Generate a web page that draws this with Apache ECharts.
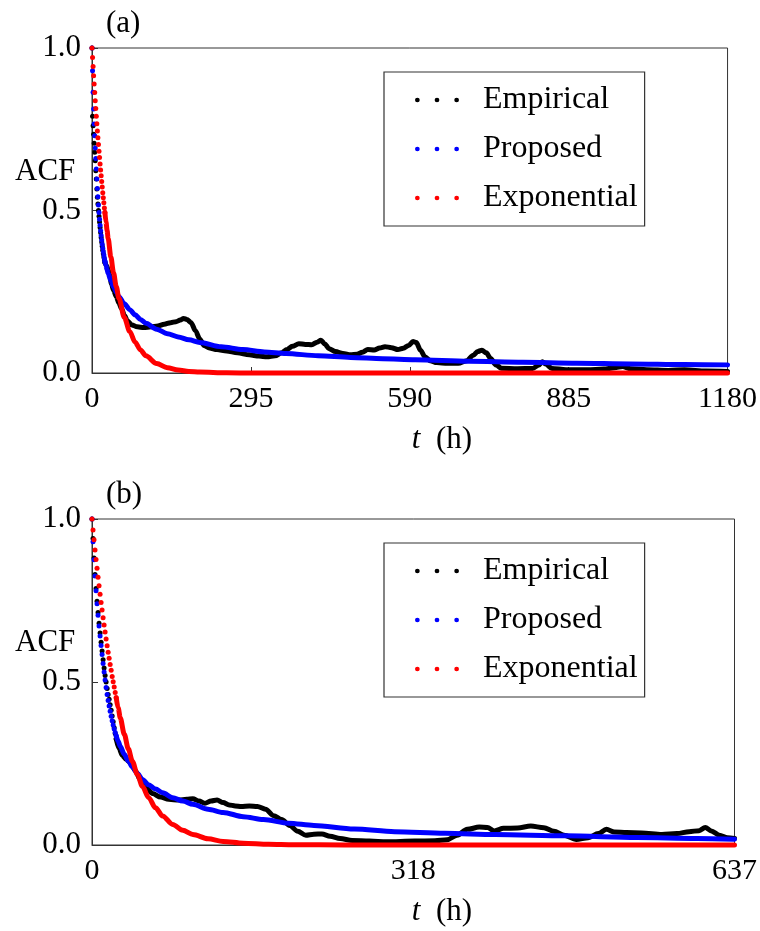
<!DOCTYPE html>
<html>
<head>
<meta charset="utf-8">
<script src="https://cdn.jsdelivr.net/npm/echarts@6/dist/echarts.min.js"></script>
<style>
  html, body { margin: 0; padding: 0; background: #ffffff; }
  #chart { width: 760px; height: 931px; }
</style>
</head>
<body>
<div id="chart"></div>
<script>
// Autocorrelation functions: empirical estimate versus two fitted models.
// Two records, panels (a) and (b); t in hours. Early lags are hourly samples.

const seriesNames = ['Empirical', 'Proposed', 'Exponential'];

// ---- Panel (a) ----
const xTicksA = ['0', '295', '590', '885', '1180'];
const empiricalA = [
  [0, 1.0], [1, 0.79], [2, 0.761], [3, 0.735], [4, 0.707], [5, 0.679], [6, 0.653], [7, 0.622],
  [8, 0.597], [9, 0.566], [10, 0.541], [11, 0.52], [12, 0.50], [13, 0.482], [14, 0.465],
  [15, 0.448], [16, 0.432], [17, 0.417], [18, 0.403], [19, 0.39], [20, 0.378], [21, 0.367],
  [22, 0.357], [23, 0.348], [24, 0.34], [27, 0.33], [30, 0.318], [33, 0.30], [36, 0.275],
  [40, 0.255], [45, 0.235], [50, 0.215], [55, 0.198], [60, 0.178], [66, 0.16], [74, 0.148],
  [84, 0.142], [96, 0.140], [110, 0.142], [122, 0.145], [134, 0.150], [146, 0.155],
  [156, 0.158], [164, 0.163], [170, 0.168], [176, 0.165], [184, 0.155], [192, 0.13],
  [200, 0.105], [208, 0.085], [218, 0.077], [232, 0.072], [250, 0.068], [270, 0.062],
  [292, 0.056], [310, 0.052], [325, 0.050], [340, 0.053], [352, 0.062], [362, 0.072],
  [372, 0.082], [384, 0.090], [396, 0.088], [408, 0.087], [418, 0.095], [425, 0.101],
  [432, 0.090], [440, 0.075], [452, 0.066], [466, 0.060], [480, 0.056], [492, 0.058],
  [502, 0.064], [512, 0.072], [524, 0.071], [534, 0.077], [544, 0.081], [556, 0.078],
  [568, 0.072], [578, 0.076], [588, 0.085], [596, 0.097], [602, 0.094], [610, 0.070],
  [618, 0.050], [628, 0.038], [640, 0.032], [660, 0.030], [680, 0.030], [696, 0.038],
  [708, 0.055], [716, 0.066], [724, 0.070], [732, 0.062], [740, 0.045], [750, 0.025],
  [760, 0.015], [790, 0.013], [818, 0.014], [830, 0.025], [836, 0.035], [842, 0.028],
  [854, 0.014], [880, 0.010], [920, 0.010], [950, 0.012], [970, 0.016], [985, 0.020],
  [1000, 0.013], [1030, 0.010], [1070, 0.008], [1100, 0.010], [1140, 0.006], [1180, 0.005]
];
const proposedA = [
  [0, 1.0], [1, 0.93], [2, 0.864], [3, 0.812], [4, 0.766], [5, 0.73], [6, 0.692], [7, 0.66],
  [8, 0.628], [9, 0.597], [10, 0.568], [11, 0.542], [12, 0.517], [13, 0.494], [14, 0.473],
  [15, 0.455], [16, 0.438], [17, 0.423], [18, 0.409], [19, 0.396], [20, 0.384], [21, 0.373],
  [22, 0.363], [23, 0.353], [24, 0.344], [26, 0.33], [28, 0.318], [30, 0.307], [35, 0.284],
  [40, 0.265], [45, 0.249], [50, 0.235], [60, 0.213], [70, 0.195], [80, 0.179], [90, 0.165],
  [100, 0.153], [120, 0.135], [140, 0.121], [160, 0.111], [180, 0.102], [200, 0.094],
  [240, 0.081], [280, 0.072], [320, 0.065], [360, 0.060], [420, 0.053], [480, 0.048],
  [540, 0.044], [600, 0.041], [700, 0.036], [800, 0.033], [900, 0.030], [1000, 0.028],
  [1100, 0.026], [1180, 0.025]
];
const exponentialA = [
  [0, 1.0], [1, 0.971], [2, 0.943], [3, 0.915], [4, 0.889], [5, 0.863], [6, 0.838],
  [7, 0.814], [8, 0.790], [9, 0.767], [10, 0.745], [11, 0.724], [12, 0.703], [13, 0.682],
  [14, 0.663], [15, 0.643], [16, 0.625], [17, 0.607], [18, 0.589], [19, 0.572], [20, 0.555],
  [21, 0.539], [22, 0.524], [23, 0.508], [24, 0.494], [26, 0.465], [28, 0.439], [30, 0.414],
  [35, 0.357], [40, 0.308], [45, 0.266], [50, 0.230], [60, 0.171], [70, 0.128], [80, 0.095],
  [90, 0.071], [100, 0.053], [120, 0.029], [140, 0.016], [160, 0.009], [180, 0.005],
  [200, 0.003], [250, 0.0006], [300, 0.0], [1180, 0.0]
];

// ---- Panel (b) ----
const xTicksB = ['0', '318', '637'];
const empiricalB = [
  [0, 1.0], [1, 0.94], [2, 0.88], [3, 0.83], [4, 0.787], [5, 0.748], [6, 0.713], [7, 0.68],
  [8, 0.65], [9, 0.622], [10, 0.595], [11, 0.568], [12, 0.543], [13, 0.52], [14, 0.50],
  [15, 0.48], [16, 0.462], [17, 0.447], [18, 0.43], [19, 0.413], [20, 0.396], [21, 0.378],
  [22, 0.36], [23, 0.342], [24, 0.325], [27, 0.295], [30, 0.275], [34, 0.262], [38, 0.252],
  [43, 0.228], [48, 0.20], [54, 0.175], [60, 0.158], [68, 0.147], [76, 0.140], [86, 0.138],
  [94, 0.140], [100, 0.142], [106, 0.135], [112, 0.128], [118, 0.135], [124, 0.138],
  [130, 0.130], [136, 0.123], [142, 0.120], [148, 0.118], [156, 0.120], [164, 0.118],
  [172, 0.110], [180, 0.090], [188, 0.078], [196, 0.060], [204, 0.042], [212, 0.030],
  [220, 0.033], [228, 0.034], [236, 0.027], [246, 0.020], [258, 0.014], [275, 0.012],
  [292, 0.010], [320, 0.012], [340, 0.013], [352, 0.016], [362, 0.030], [372, 0.048],
  [384, 0.055], [392, 0.054], [399, 0.043], [408, 0.051], [422, 0.052], [435, 0.058],
  [448, 0.053], [458, 0.042], [468, 0.030], [480, 0.017], [492, 0.022], [502, 0.035],
  [510, 0.048], [518, 0.040], [530, 0.038], [545, 0.037], [565, 0.032], [580, 0.035],
  [592, 0.041], [602, 0.044], [608, 0.054], [614, 0.043], [622, 0.030], [630, 0.022],
  [637, 0.020]
];
const proposedB = [
  [0, 1.0], [1, 0.93], [2, 0.875], [3, 0.825], [4, 0.78], [5, 0.74], [6, 0.705], [7, 0.672],
  [8, 0.641], [9, 0.612], [10, 0.584], [11, 0.557], [12, 0.531], [13, 0.506], [14, 0.483],
  [15, 0.462], [16, 0.443], [17, 0.426], [18, 0.41], [19, 0.395], [20, 0.381], [21, 0.368],
  [22, 0.356], [23, 0.345], [24, 0.335], [26, 0.318], [28, 0.303], [32, 0.278], [36, 0.258],
  [40, 0.240], [45, 0.219], [50, 0.201], [56, 0.185], [63, 0.172], [70, 0.160], [80, 0.145],
  [90, 0.135], [100, 0.125], [115, 0.110], [130, 0.100], [150, 0.087], [170, 0.078],
  [195, 0.067], [220, 0.060], [260, 0.049], [300, 0.041], [350, 0.036], [400, 0.032],
  [470, 0.028], [540, 0.023], [600, 0.020], [637, 0.018]
];
const exponentialB = [
  [0, 1.0], [1, 0.966], [2, 0.936], [3, 0.905], [4, 0.876], [5, 0.849], [6, 0.821],
  [7, 0.795], [8, 0.769], [9, 0.744], [10, 0.721], [11, 0.697], [12, 0.675], [13, 0.653],
  [14, 0.632], [15, 0.611], [16, 0.591], [17, 0.573], [18, 0.554], [19, 0.536], [20, 0.517],
  [21, 0.501], [22, 0.485], [23, 0.468], [24, 0.452], [26, 0.42], [28, 0.39], [32, 0.34],
  [36, 0.295], [40, 0.257], [45, 0.216], [50, 0.18], [56, 0.146], [63, 0.114], [70, 0.089],
  [80, 0.063], [90, 0.045], [100, 0.032], [115, 0.019], [130, 0.011], [150, 0.0057],
  [175, 0.0024], [200, 0.001], [250, 0.0002], [300, 0.0], [637, 0.0]
];

const yTicks = ['0.0', '0.5', '1.0'];

// ---- styling ----
const FONT = '"Liberation Serif", "Times New Roman", serif';
const AXIS_COLOR = '#333333';
const COLORS = { Empirical: '#000000', Proposed: '#0000ff', Exponential: '#ff0000' };
const DOT = 5;          // marker diameter
const DOT_LAGS = 24;    // hourly lags drawn as separate dots; beyond this the dots merge into a band
// three-dot legend marker
const DOTS_ICON = 'path://M0,2.35a2.35,2.35 0 1,0 4.7,0a2.35,2.35 0 1,0 -4.7,0z' +
  'M19.5,2.35a2.35,2.35 0 1,0 4.7,0a2.35,2.35 0 1,0 -4.7,0z' +
  'M39,2.35a2.35,2.35 0 1,0 4.7,0a2.35,2.35 0 1,0 -4.7,0z';

const panels = [
  { top: 48, height: 325, xMax: 1180, xInterval: 295, xTicks: xTicksA,
    data: [empiricalA, proposedA, exponentialA], tag: '(a)' },
  { top: 519, height: 326, xMax: 637, xInterval: 318.5, xTicks: xTicksB,
    data: [empiricalB, proposedB, exponentialB], tag: '(b)' }
];

const grids = [], xAxes = [], yAxes = [], series = [], legends = [], graphics = [];

panels.forEach((p, i) => {
  grids.push({ left: 92, top: p.top, width: 651, height: p.height, show: true,
    borderColor: AXIS_COLOR, borderWidth: 1, backgroundColor: 'transparent' });

  xAxes.push({
    gridIndex: i, type: 'value', min: 0, max: p.xMax, interval: p.xInterval,
    axisLine: { show: true, onZero: false, lineStyle: { color: AXIS_COLOR, width: 1 } },
    axisTick: { show: true, inside: true, length: 6, lineStyle: { color: AXIS_COLOR, width: 1 } },
    axisLabel: { show: true, fontFamily: FONT, fontSize: 30, color: '#000', margin: 11,
      showMinLabel: true, showMaxLabel: true,
      formatter: (v, idx) => p.xTicks[idx] },
    splitLine: { show: false }
  });

  yAxes.push({
    gridIndex: i, type: 'value', min: 0, max: 1, interval: 0.5,
    axisLine: { show: true, onZero: false, lineStyle: { color: AXIS_COLOR, width: 1 } },
    axisTick: { show: true, inside: true, length: 6, lineStyle: { color: AXIS_COLOR, width: 1 } },
    axisLabel: { show: true, fontFamily: FONT, fontSize: 31, color: '#000', margin: 11,
      formatter: (v, idx) => yTicks[idx] },
    splitLine: { show: false }
  });

  seriesNames.forEach((name, k) => {
    const pts = p.data[k];
    const color = COLORS[name];
    // sparse early lags: individual dots
    series.push({
      type: 'scatter', name: name, xAxisIndex: i, yAxisIndex: i,
      data: pts.filter(d => d[0] <= DOT_LAGS),
      symbol: 'circle', symbolSize: DOT, clip: false, silent: true,
      itemStyle: { color: color, opacity: 1 },
      z: 2 + k
    });
    // dense later lags: the dots overlap into a continuous band
    series.push({
      type: 'line', name: name, xAxisIndex: i, yAxisIndex: i,
      data: pts.filter(d => d[0] >= DOT_LAGS), showSymbol: false, symbol: 'circle',
      smooth: 0.3, smoothMonotone: 'x', clip: false, silent: true,
      lineStyle: { color: color, width: DOT, cap: 'round', join: 'round' },
      itemStyle: { color: color },
      z: 2 + k
    });
  });

  legends.push({
    show: true, orient: 'vertical', left: 384, top: p.top + 24,
    data: seriesNames, icon: DOTS_ICON, itemWidth: 44, itemHeight: 5, itemGap: 17,
    padding: [12, 7, 12, 31], borderColor: AXIS_COLOR, borderWidth: 1.2,
    backgroundColor: '#fff', selectedMode: false,
    textStyle: { fontFamily: FONT, fontSize: 32, color: '#000', lineHeight: 32,
      padding: [0, 0, 0, 19] }
  });

  // panel tag, y-axis title, x-axis title
  graphics.push(
    { type: 'text', left: 106, top: p.top - 40,
      style: { text: p.tag, fontFamily: FONT, fontSize: 31, fill: '#000' } },
    { type: 'text', x: 15, y: p.top + 124,
      style: { text: 'ACF', fontFamily: FONT, fontSize: 31, fill: '#000',
        align: 'left', verticalAlign: 'middle' } },
    { type: 'text', x: 442, y: p.top + p.height + 67,
      style: { text: '{i|t}  (h)', fontFamily: FONT, fontSize: 31, fill: '#000',
        align: 'center', verticalAlign: 'middle',
        rich: { i: { fontFamily: FONT, fontSize: 31, fontStyle: 'italic', fill: '#000' } } } }
  );
});

const chart = echarts.init(document.getElementById('chart'), null, { renderer: 'canvas' });
chart.setOption({
  animation: false,
  backgroundColor: '#ffffff',
  grid: grids,
  xAxis: xAxes,
  yAxis: yAxes,
  legend: legends,
  series: series,
  graphic: graphics
});
</script>
</body>
</html>
